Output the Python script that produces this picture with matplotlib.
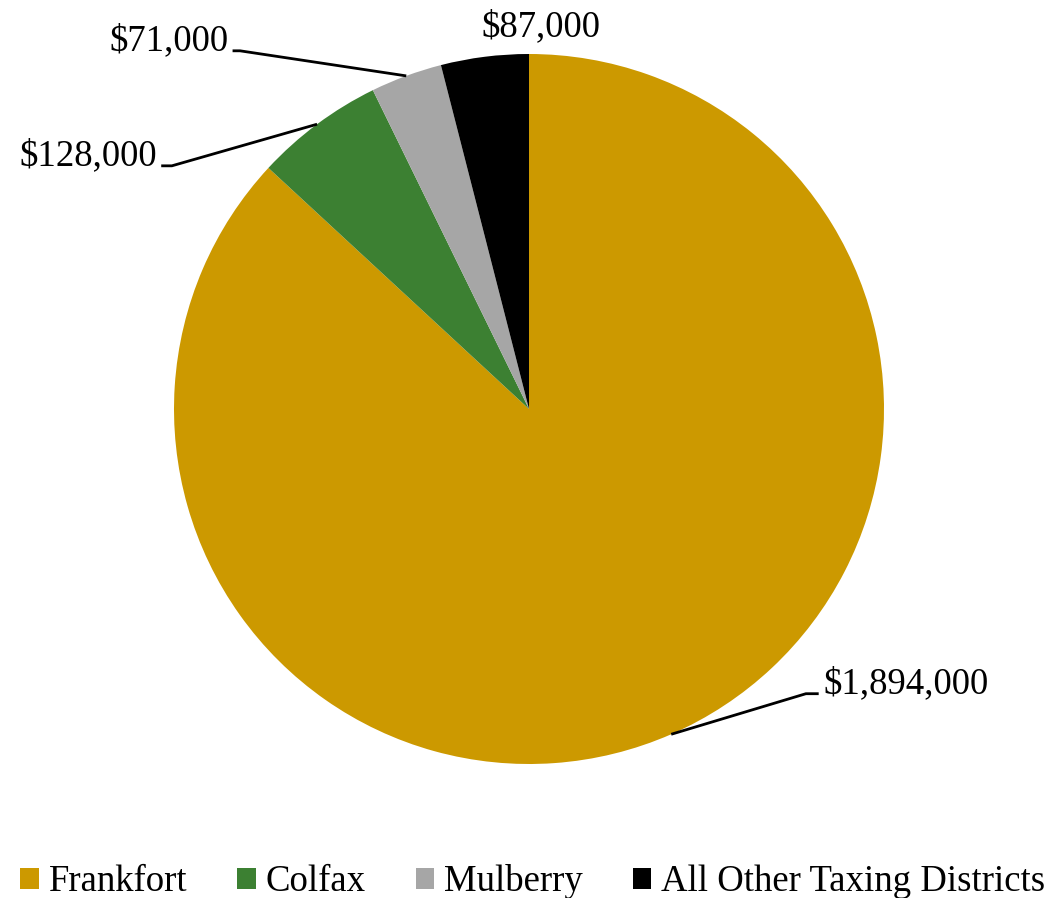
import numpy as np
import matplotlib.pyplot as plt
from matplotlib.patches import Patch

plt.rcParams['font.family'] = ['Liberation Serif', 'DejaVu Serif']

districts = ['Frankfort', 'Colfax', 'Mulberry', 'All Other Taxing Districts']
amounts = [1894000, 128000, 71000, 87000]
colors = ['#CC9900', '#3C8032', '#A6A6A6', '#000000']

# label anchor (x, y, ha) and leader elbow x for each slice, in axis units
label_pos = [(0.828, -0.775, 'left'), (-1.048, 0.712, 'right'),
             (-0.847, 1.036, 'right'), (0.034, 1.076, 'center')]
elbow_x = [0.780, -1.006, -0.814, None]

W, H = 1049, 898
cx, cy, r = 529, 409, 355
FS = 26.5

fig = plt.figure(figsize=(W / 100, H / 100), dpi=100)
ax = fig.add_axes([0, 0, 1, 1])

ax.pie(amounts, colors=colors, startangle=90, counterclock=False,
       radius=1, center=(0, 0), frame=True, wedgeprops=dict(linewidth=0))
ax.set_xlim(-cx / r, (W - cx) / r)
ax.set_ylim(-(H - cy) / r, cy / r)
ax.set_aspect('equal')
ax.axis('off')

total = sum(amounts)
start = 90.0
for i, val in enumerate(amounts):
    sweep = val / total * 360
    mid = np.radians(start - sweep / 2)
    start -= sweep
    lx, ly, ha = label_pos[i]
    ax.text(lx, ly, f'${val:,}', ha=ha, va='center', fontsize=FS)
    if elbow_x[i] is not None:
        ex, ey = np.cos(mid), np.sin(mid)
        yl = ly - 0.027
        gap = 0.012 if ha == 'left' else -0.012
        ax.plot([ex, elbow_x[i], lx - gap], [ey, yl, yl], color='black', lw=2,
                solid_capstyle='butt')

handles = [Patch(facecolor=c, edgecolor='none') for c in colors]
fig.legend(handles, districts, loc='center', bbox_to_anchor=(0.508, 0.018),
           ncol=4, frameon=False, fontsize=FS, handlelength=0.5,
           handleheight=0.5, handletextpad=0.27, columnspacing=1.36,
           borderpad=0, borderaxespad=0)

fig.savefig('out.png', dpi=100)
